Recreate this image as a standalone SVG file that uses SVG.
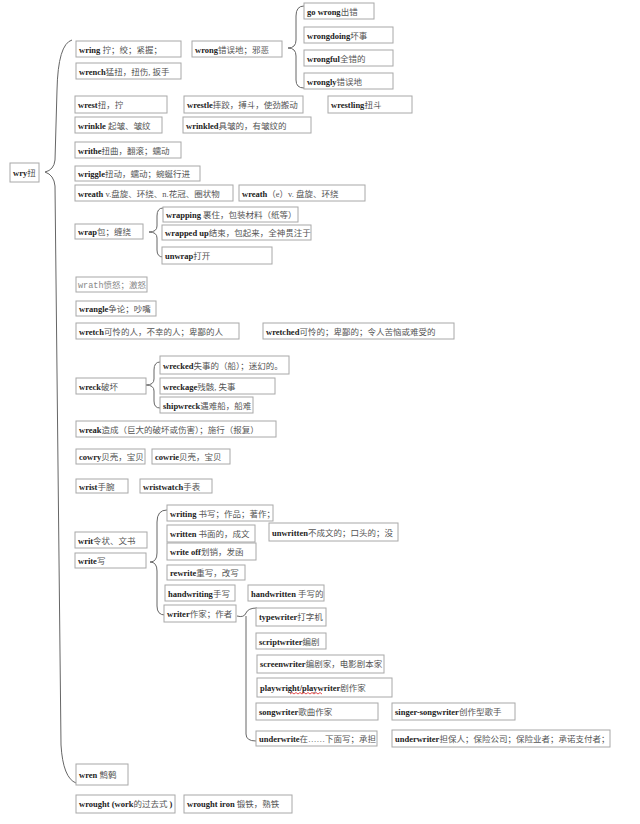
<svg xmlns="http://www.w3.org/2000/svg" width="640" height="824" viewBox="0 0 640 824">
<style>
.b{fill:#fff;stroke:#a8a8a8;stroke-width:1}
text{font-family:"Liberation Serif","Noto Sans CJK SC",serif;font-size:8.5px;fill:#555}
.e{font-weight:bold;fill:#222}
.m{font-family:"Liberation Mono","Noto Sans CJK SC",monospace;fill:#888}
.g{fill:#888}
.c{fill:none;stroke:#666;stroke-width:1}
</style>
<rect width="640" height="824" fill="#fff"/>
<g id="connectors">
<path class="c" d="M72,40 Q58,44 57,90 L55,160 Q54,170 45,172 Q54,175 55,186 L61,745 Q63,778 76,783"/>
<path class="c" d="M304,6 Q296,6 296,16 L296,40 Q296,48 288,48 Q296,48 296,56 L296,80 Q296,88 304,88"/>
<path class="c" d="M163,208 Q157,208 157,216 L157,226 Q157,232 149,232 Q157,232 157,238 L157,250 Q157,257 163,257"/>
<path class="c" d="M160,362 Q154,362 154,370 L154,379 Q154,385 146,385 Q154,385 154,391 L154,401 Q154,408 160,408"/>
<path class="c" d="M167,510 Q157,510 157,522 L157,553 Q157,562 150,562 Q157,562 157,571 L157,606 Q157,615 165,615"/>
<path class="c" d="M237,616 Q244,618 246,613 Q248,608 257,608"/>
<path class="c" d="M246,616 L246,734 Q246,741 256,741"/>
</g>
<g id="wry"><rect class="b" x="10" y="163" width="29" height="19"/><text x="13" y="176"><tspan class="e">wry</tspan>扭</text></g>
<g id="wring"><rect class="b" x="76" y="41" width="105" height="16"/><text x="79" y="53"><tspan class="e">wring</tspan> 拧；绞；紧握；</text></g>
<g id="wrench"><rect class="b" x="76" y="63" width="105" height="16"/><text x="79" y="75"><tspan class="e">wrench</tspan>猛扭，扭伤, 扳手</text></g>
<g id="wrong"><rect class="b" x="192" y="41" width="90" height="16"/><text x="195" y="53"><tspan class="e">wrong</tspan>错误地；邪恶</text></g>
<g id="gowrong"><rect class="b" x="304" y="3" width="70" height="16"/><text x="307" y="15"><tspan class="e">go wrong</tspan>出错</text></g>
<g id="wrongdoing"><rect class="b" x="304" y="27" width="89" height="16"/><text x="307" y="39"><tspan class="e">wrongdoing</tspan>坏事</text></g>
<g id="wrongful"><rect class="b" x="304" y="50" width="89" height="16"/><text x="307" y="62"><tspan class="e">wrongful</tspan>全错的</text></g>
<g id="wrongly"><rect class="b" x="304" y="73" width="89" height="16"/><text x="307" y="85"><tspan class="e">wrongly</tspan>错误地</text></g>
<g id="wrest"><rect class="b" x="75" y="96" width="92" height="17"/><text x="78" y="108"><tspan class="e">wrest</tspan>扭，拧</text></g>
<g id="wrestle"><rect class="b" x="184" y="96" width="119" height="17"/><text x="187" y="108"><tspan class="e">wrestle</tspan>摔跤，搏斗，使劲搬动</text></g>
<g id="wrestling"><rect class="b" x="328" y="96" width="84" height="17"/><text x="331" y="108"><tspan class="e">wrestling</tspan>扭斗</text></g>
<g id="wrinkle"><rect class="b" x="75" y="117" width="87" height="16"/><text x="78" y="129"><tspan class="e">wrinkle</tspan> 起皱、皱纹</text></g>
<g id="wrinkled"><rect class="b" x="183" y="117" width="128" height="16"/><text x="186" y="129"><tspan class="e">wrinkled</tspan>具皱的，有皱纹的</text></g>
<g id="writhe"><rect class="b" x="75" y="142" width="106" height="16"/><text x="78" y="154"><tspan class="e">writhe</tspan>扭曲，翻滚；蠕动</text></g>
<g id="wriggle"><rect class="b" x="75" y="166" width="125" height="15"/><text x="78" y="177"><tspan class="e">wriggle</tspan>扭动，蠕动；蜿蜒行进</text></g>
<g id="wreath"><rect class="b" x="75" y="185" width="158" height="16"/><text x="78" y="197"><tspan class="e">wreath</tspan> v.盘旋、环绕、n.花冠、圈状物</text></g>
<g id="wreathe"><rect class="b" x="239" y="185" width="126" height="16"/><text x="242" y="197"><tspan class="e">wreath</tspan>（e）v. 盘旋、环绕</text></g>
<g id="wrap"><rect class="b" x="75" y="224" width="68" height="15"/><text x="78" y="235"><tspan class="e">wrap</tspan>包；缠绕</text></g>
<g id="wrapping"><rect class="b" x="163" y="207" width="135" height="15"/><text x="166" y="218"><tspan class="e">wrapping</tspan>  裹住，包装材料（纸等）</text></g>
<g id="wrappedup"><rect class="b" x="162" y="225" width="149" height="15"/><text x="165" y="236"><tspan class="e">wrapped up</tspan>结束，包起来，全神贯注于</text></g>
<g id="unwrap"><rect class="b" x="162" y="247" width="110" height="17"/><text x="165" y="259"><tspan class="e">unwrap</tspan>打开</text></g>
<g id="wrath"><rect class="b" x="76" y="277" width="71" height="15"/><text x="78" y="288"><tspan class="m">wrath</tspan><tspan class="g">愤怒；激怒</tspan></text></g>
<g id="wrangle"><rect class="b" x="76" y="301" width="80" height="15"/><text x="79" y="312"><tspan class="e">wrangle</tspan>争论；吵嘴</text></g>
<g id="wretch"><rect class="b" x="76" y="323" width="163" height="16"/><text x="79" y="335"><tspan class="e">wretch</tspan>可怜的人，不幸的人；卑鄙的人</text></g>
<g id="wretched"><rect class="b" x="263" y="323" width="191" height="16"/><text x="266" y="335"><tspan class="e">wretched</tspan>可怜的；卑鄙的；令人苦恼或难受的</text></g>
<g id="wreck"><rect class="b" x="76" y="378" width="70" height="16"/><text x="79" y="390"><tspan class="e">wreck</tspan>破坏</text></g>
<g id="wrecked"><rect class="b" x="160" y="356" width="129" height="18"/><text x="163" y="369"><tspan class="e">wrecked</tspan>失事的（船）；迷幻的。</text></g>
<g id="wreckage"><rect class="b" x="160" y="378" width="115" height="16"/><text x="163" y="390"><tspan class="e">wreckage</tspan>残骸, 失事</text></g>
<g id="shipwreck"><rect class="b" x="160" y="397" width="93" height="16"/><text x="163" y="409"><tspan class="e">shipwreck</tspan>遇难船，船难</text></g>
<g id="wreak"><rect class="b" x="76" y="421" width="200" height="16"/><text x="79" y="433"><tspan class="e">wreak</tspan>造成（巨大的破坏或伤害）；施行（报复）</text></g>
<g id="cowry"><rect class="b" x="76" y="449" width="69" height="15"/><text x="79" y="460"><tspan class="e">cowry</tspan>贝壳，宝贝</text></g>
<g id="cowrie"><rect class="b" x="152" y="449" width="78" height="15"/><text x="155" y="460"><tspan class="e">cowrie</tspan>贝壳，宝贝</text></g>
<g id="wrist"><rect class="b" x="76" y="479" width="52" height="14"/><text x="79" y="490"><tspan class="e">wrist</tspan>手腕</text></g>
<g id="wristwatch"><rect class="b" x="140" y="479" width="72" height="14"/><text x="143" y="490"><tspan class="e">wristwatch</tspan>手表</text></g>
<g id="writ"><rect class="b" x="75" y="532" width="72" height="16"/><text x="78" y="544"><tspan class="e">writ</tspan>令状、文书</text></g>
<g id="write"><rect class="b" x="75" y="553" width="71" height="15"/><text x="78" y="564"><tspan class="e">write</tspan>写</text></g>
<g id="writing"><rect class="b" x="167" y="505" width="106" height="16"/><text x="170" y="517"><tspan class="e">writing</tspan> 书写；作品；著作；</text></g>
<g id="written"><rect class="b" x="167" y="525" width="88" height="17"/><text x="170" y="537"><tspan class="e">written</tspan> 书面的，成文</text></g>
<g id="unwritten"><rect class="b" x="269" y="523" width="129" height="18"/><text x="272" y="536"><tspan class="e">unwritten</tspan>不成文的；口头的；没</text></g>
<g id="writeoff"><rect class="b" x="167" y="543" width="89" height="17"/><text x="170" y="555"><tspan class="e">write off</tspan>划销，发函</text></g>
<g id="rewrite"><rect class="b" x="167" y="565" width="78" height="15"/><text x="170" y="576"><tspan class="e">rewrite</tspan>重写，改写</text></g>
<g id="handwriting"><rect class="b" x="165" y="585" width="70" height="16"/><text x="168" y="597"><tspan class="e">handwriting</tspan>手写</text></g>
<g id="handwritten"><rect class="b" x="248" y="585" width="76" height="16"/><text x="251" y="597"><tspan class="e">handwritten</tspan> 手写的</text></g>
<g id="writer"><rect class="b" x="164" y="605" width="72" height="17"/><text x="167" y="617"><tspan class="e">writer</tspan>作家；作者</text></g>
<g id="typewriter"><rect class="b" x="256" y="608" width="70" height="18"/><text x="259" y="620"><tspan class="e">typewriter</tspan>打字机</text></g>
<g id="scriptwriter"><rect class="b" x="256" y="633" width="70" height="16"/><text x="259" y="645"><tspan class="e">scriptwriter</tspan>编剧</text></g>
<g id="screenwriter"><rect class="b" x="257" y="655" width="127" height="18"/><text x="260" y="667"><tspan class="e">screenwriter</tspan>编剧家，电影剧本家</text></g>
<g id="playwright"><rect class="b" x="257" y="678" width="135" height="19"/><text x="260" y="691"><tspan class="e">playwright/playwriter</tspan>剧作家</text><path d="M290,694 l2,-1.5 l2,1.5 l2,-1.5 l2,1.5 l2,-1.5 l2,1.5 l2,-1.5 l2,1.5 l2,-1.5 l2,1.5 l2,-1.5 l2,1.5 l2,-1.5 l2,1.5 l2,-1.5 l2,1.5" fill="none" stroke="#d22" stroke-width="0.8"/></g>
<g id="songwriter"><rect class="b" x="256" y="703" width="122" height="17"/><text x="259" y="715"><tspan class="e">songwriter</tspan>歌曲作家</text></g>
<g id="singersongwriter"><rect class="b" x="392" y="703" width="123" height="17"/><text x="395" y="715"><tspan class="e">singer-songwriter</tspan>创作型歌手</text></g>
<g id="underwrite"><rect class="b" x="256" y="731" width="121" height="15"/><text x="259" y="742"><tspan class="e">underwrite</tspan>在……下面写；承担</text></g>
<g id="underwriter"><rect class="b" x="392" y="730" width="218" height="17"/><text x="395" y="742"><tspan class="e">underwriter</tspan>担保人；保险公司；保险业者；承诺支付者；</text></g>
<g id="wren"><rect class="b" x="76" y="764" width="52" height="21"/><text x="79" y="778"><tspan class="e">wren</tspan> 鹪鹩</text></g>
<g id="wrought"><rect class="b" x="76" y="795" width="99" height="18"/><text x="79" y="807"><tspan class="e">wrought (work</tspan>的过去式 <tspan class="e">)</tspan></text></g>
<g id="wroughtiron"><rect class="b" x="184" y="795" width="108" height="18"/><text x="187" y="807"><tspan class="e">wrought iron</tspan> 锻铁，熟铁</text></g>
</svg>
